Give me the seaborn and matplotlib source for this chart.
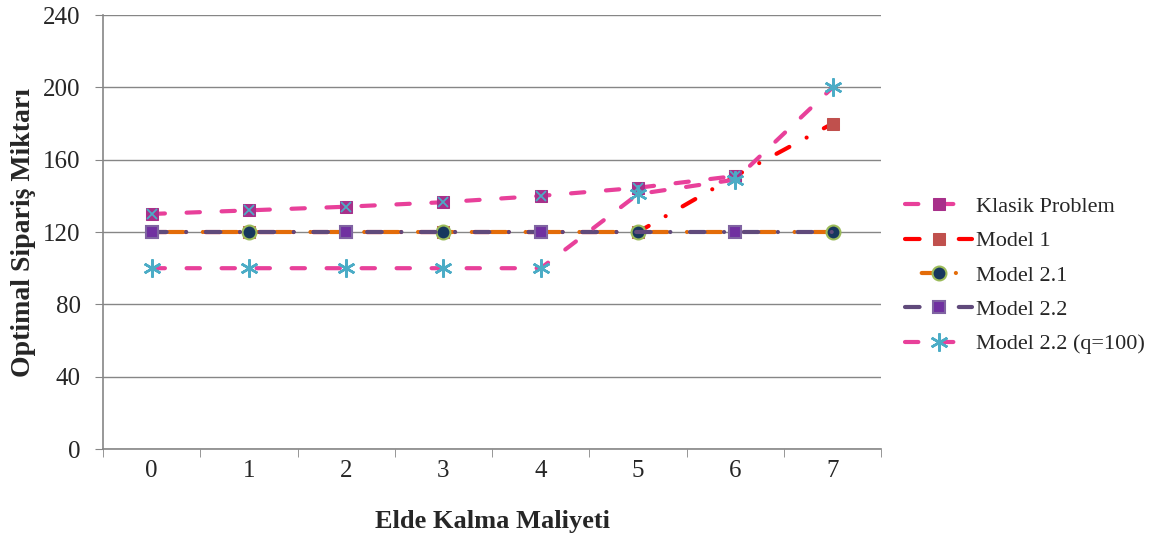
import matplotlib.pyplot as plt
import matplotlib.ticker as mticker
import numpy as np
import seaborn as sns

# data
maliyet = [0, 1, 2, 3, 4, 5, 6, 7]
klasik = [130, 132, 134, 136.5, 140, 144.5, 151, np.nan]
model1 = [120, 120, 120, 120, 120, 120, 151, 180]
model21 = [120, 120, 120, 120, 120, 120, 120, 120]
model22 = [120, 120, 120, 120, 120, 120, 120, 120]
model22q = [100, 100, 100, 100, 100, 141, 149, 200]
y_ticks = [0, 40, 80, 120, 160, 200, 240]

sns.set_style("white")
plt.rcParams['font.family'] = ['Liberation Serif', 'DejaVu Serif']

fig, ax = plt.subplots(figsize=(11.49, 5.38), dpi=100)
fig.subplots_adjust(left=0.0896, right=0.767, top=0.972, bottom=0.1654)

pink = '#E8409A'
LW = 3
DASHDOT = [3.5, 4.7, 0.01, 4.7]

def style(line, dashes, offset=0):
    line.set_linestyle((offset, dashes))
    line.set_dash_capstyle('round')

###############################################################################

sns.lineplot(x=maliyet, y=model1, ax=ax, color='#FF0000', lw=LW,
             label='Model 1', zorder=2,
             marker='s', markersize=9, markerfacecolor='#C0504D',
             markeredgecolor='#C0504D')
style(ax.lines[-1], DASHDOT)

sns.lineplot(x=maliyet, y=model21, ax=ax, color='#E36C09', lw=LW,
             label='Model 2.1', zorder=3, markevery=[1, 3, 5, 7],
             marker='o', markersize=10, markerfacecolor='#17375E',
             markeredgecolor='#9BBB59', markeredgewidth=1.5)
style(ax.lines[-1], DASHDOT, offset=8.9)

sns.lineplot(x=maliyet, y=model22, ax=ax, color='#604A7B', lw=LW,
             label='Model 2.2', zorder=3.5, markevery=[0, 2, 4, 6],
             marker='s', markersize=9, markerfacecolor='#7030A0',
             markeredgecolor='#8064A2', markeredgewidth=1.5)
style(ax.lines[-1], DASHDOT)

sns.lineplot(x=maliyet, y=klasik, ax=ax, color=pink, lw=LW,
             label='Klasik Problem', zorder=4,
             marker='s', markersize=9, markerfacecolor='#A8308A',
             markeredgecolor='#A8308A')
style(ax.lines[-1], [3.2, 5.2])
ax.plot(maliyet, klasik, ls='none', marker='x', ms=7, mew=1.3,
        color='#4BACC6', zorder=5)

sns.lineplot(x=maliyet, y=model22q, ax=ax, color=pink, lw=LW,
             label='Model 2.2 (q=100)', zorder=4,
             marker=(6, 2, 0), markersize=13, markeredgewidth=1.8,
             markeredgecolor='#4BACC6', markerfacecolor='#4BACC6')
style(ax.lines[-1], [3.2, 5.2])

###############################################################################

ax.set_xlim(-0.5, 7.5)
ax.set_ylim(0, 240)
ax.set_yticks(y_ticks)
ax.set_xticks(maliyet)
ax.xaxis.set_minor_locator(mticker.FixedLocator(np.arange(-0.5, 8, 1)))
ax.tick_params(axis='x', which='major', length=0, labelsize=18, pad=8)
ax.tick_params(axis='x', which='minor', length=6, color='#868686',
               direction='out', bottom=True)
ax.tick_params(axis='y', length=6, color='#868686', direction='out',
               labelsize=18, left=True, pad=10)
ax.yaxis.grid(True, color='#868686', lw=1)
ax.set_axisbelow(True)

for s in ['top', 'right']:
    ax.spines[s].set_visible(False)
for s in ['left', 'bottom']:
    ax.spines[s].set_color('#868686')
    ax.spines[s].set_linewidth(1.2)

ax.set_xlabel('Elde Kalma Maliyeti', fontsize=19, fontweight='bold',
              labelpad=20)
ax.set_ylabel('Optimal Sipariş Miktarı', fontsize=20, fontweight='bold',
              labelpad=5)

# legend in the same order as the reference
h, l = ax.get_legend_handles_labels()
order = [l.index(n) for n in ['Klasik Problem', 'Model 1', 'Model 2.1',
                              'Model 2.2', 'Model 2.2 (q=100)']]
ax.legend([h[i] for i in order], [l[i] for i in order],
          loc='center left', bbox_to_anchor=(1.005, 0.40), frameon=False,
          fontsize=16, handlelength=3.0, labelspacing=0.62,
          handletextpad=0.2)

plt.savefig('out.png')
